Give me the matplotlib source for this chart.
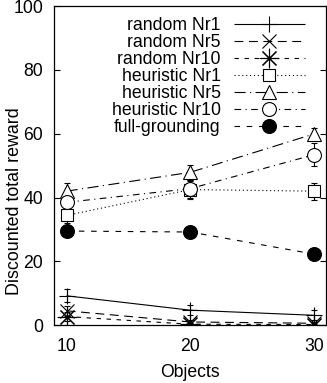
import numpy as np
import matplotlib
matplotlib.use("Agg")
import matplotlib.pyplot as plt
from matplotlib.lines import Line2D

plt.rcParams['font.family'] = ['Liberation Sans', 'DejaVu Sans']

objects = [10, 20, 30]

labels = ["random Nr1", "random Nr5", "random Nr10",
          "heuristic Nr1", "heuristic Nr5", "heuristic Nr10", "full-grounding"]

random_nr1 = [9.2, 4.7, 3.1]
random_nr5 = [4.5, 1.0, 0.6]
random_nr10 = [2.7, 0.3, 0.2]
heuristic_nr1 = [34.4, 42.5, 42.0]
heuristic_nr5 = [42.0, 47.9, 59.9]
heuristic_nr10 = [38.5, 42.8, 53.4]
full_grounding = [29.5, 29.2, 22.3]

err_random_nr1 = [2.0, 1.5, 1.5]
err_random_nr5 = [1.5, 0.5, 0.4]
err_random_nr10 = [1.5, 0.3, 0.2]
err_heuristic_nr1 = [2.5, 2.8, 2.7]
err_heuristic_nr5 = [2.5, 2.4, 2.0]
err_heuristic_nr10 = [2.5, 2.8, 3.6]
err_full_grounding = [0.5, 0.5, 0.5]

series = [random_nr1, random_nr5, random_nr10, heuristic_nr1,
          heuristic_nr5, heuristic_nr10, full_grounding]
errors = [err_random_nr1, err_random_nr5, err_random_nr10, err_heuristic_nr1,
          err_heuristic_nr5, err_heuristic_nr10, err_full_grounding]

# gnuplot-like styles: (dash pattern, marker, marker size, fill)
styles = [
    ((0, ()), '+', 12, 'none'),
    ((0, (8, 5)), 'x', 10, 'none'),
    ((0, (4, 5)), (8, 2, 0), 14, 'none'),
    ((0, (1, 2.5)), 's', 9, 'white'),
    ((0, (10, 4, 1, 4)), '^', 10, 'white'),
    ((0, (6, 4, 1, 4)), 'o', 10, 'white'),
    ((0, (5, 6)), 'o', 10, 'black'),
]

fig = plt.figure(figsize=(3.27, 3.83), dpi=100)
ax = fig.add_axes([0.166, 0.151, 0.831, 0.833])

handles = []
for ys, es, lab, (ls, mk, ms, fc) in zip(series, errors, labels, styles):
    ax.errorbar(objects, ys, yerr=es, color='black', linestyle=ls, linewidth=0.8,
                marker=mk, markersize=ms, markerfacecolor=fc, markeredgewidth=0.8,
                elinewidth=0.8, capsize=2)
    handles.append(Line2D([], [], color='black', linestyle=ls, linewidth=0.8,
                          marker=mk, markersize=ms, markerfacecolor=fc,
                          markeredgewidth=0.8))

ax.set_xlim(9, 31)
ax.set_ylim(0, 100)
ax.set_xticks(objects)
ax.set_yticks([0, 20, 40, 60, 80, 100])
ax.tick_params(direction='in', labelsize=12.7, length=4, width=0.8,
               right=True, top=False)
ax.tick_params(axis='y', pad=8)
ax.tick_params(axis='x', pad=9)
for s in ax.spines.values():
    s.set_linewidth(0.9)

ax.set_xlabel("Objects", fontsize=12.7, labelpad=7)
fig.text(15 / 327, 1 - 201 / 383, "Discounted total reward", fontsize=12.9,
         rotation=90, ha='center', va='center')

ax.legend(handles, labels, loc='upper right', frameon=False, fontsize=12.7,
          markerfirst=False, handlelength=4.0, handletextpad=0.75,
          labelspacing=0.0, borderaxespad=0.2, bbox_to_anchor=(0.96, 1.0))

fig.savefig("out.png", dpi=100)
